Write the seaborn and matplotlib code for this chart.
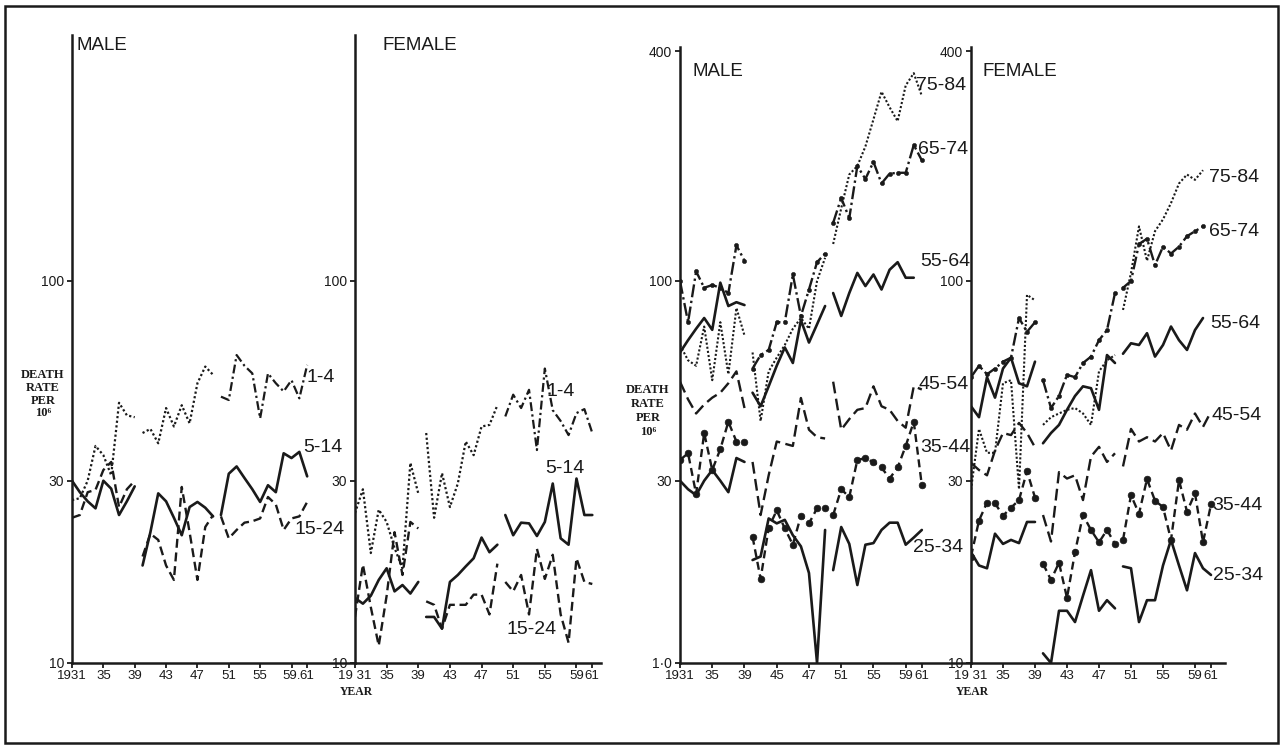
import numpy as np
import pandas as pd
import matplotlib
matplotlib.use("Agg")
import matplotlib.pyplot as plt
from matplotlib.patches import Rectangle
from matplotlib.ticker import NullLocator
import seaborn as sns

sns.set_theme(style="white")
plt.rcParams["font.family"] = ["Liberation Sans", "DejaVu Sans"]

nan = np.nan
years = list(range(1931, 1962))
# classification periods (lines are broken between them)
period = [1] * 9 + [2] * 10 + [3] * 12

# ---------------- left pair: ages 1-24 ----------------
lm_1_4 = [26.7, 27.0, 30.0, 37.0, 35.0, 31.0, 48.0, 44.5, 44.0,
          40.0, 41.0, 37.6, 46.5, 41.6, 47.3, 42.4, 54.0, 59.7, 56.8,
          49.8, 48.8, 64.0, 60.0, 57.3, 43.7, 57.3, 54.0, 51.4, 55.0, 49.3, 60.3]
lm_5_14 = [30.0, 28.0, 26.5, 25.4, 30.0, 28.6, 24.4, 26.5, 29.0,
           18.0, 22.0, 27.8, 26.5, 24.0, 21.6, 25.6, 26.4, 25.5, 24.2,
           24.4, 31.3, 32.7, 30.5, 28.5, 26.4, 29.2, 28.0, 35.4, 34.4, 35.7, 30.8]
lm_15_24 = [24.0, 24.4, 28.0, 28.4, 32.0, 33.6, 25.6, 28.5, 30.0,
            19.0, 21.8, 21.0, 18.0, 16.5, 28.9, 22.0, 16.5, 22.7, 24.4,
            24.2, 21.2, 22.3, 23.3, 23.5, 23.9, 27.2, 26.0, 22.3, 23.9, 24.2, 26.4]

lf_1_4 = [24.7, 28.5, 19.4, 25.2, 23.4, 20.0, 17.7, 33.4, 27.8,
          40.0, 24.0, 31.4, 25.6, 29.5, 38.0, 35.0, 41.6, 42.0, 47.3,
          44.2, 50.4, 46.5, 51.9, 36.1, 59.0, 45.9, 43.0, 39.5, 45.1, 46.2, 40.0]
lf_5_14 = [14.8, 14.3, 15.0, 16.5, 17.7, 15.4, 16.0, 15.2, 16.3,
           13.2, 13.2, 12.3, 16.3, 17.0, 17.9, 18.8, 21.3, 19.5, 20.4,
           24.4, 21.6, 23.3, 23.2, 21.5, 23.4, 29.5, 21.2, 20.4, 30.4, 24.4, 24.4]
lf_15_24 = [13.2, 18.1, 14.0, 11.1, 15.0, 22.0, 17.0, 23.4, 22.5,
            14.5, 14.2, 12.3, 14.2, 14.2, 14.2, 15.1, 15.1, 13.4, 18.2,
            16.3, 15.4, 17.0, 13.4, 19.9, 16.6, 19.2, 13.4, 11.3, 18.8, 16.3, 16.1]

# ---------------- right pair: ages 25-84 ----------------
rm_25_34 = [30.0, 28.5, 27.5, 30.0, 32.0, 30.0, 28.0, 34.4, 33.6,
            18.6, 19.0, 23.9, 23.2, 23.7, 21.6, 20.2, 17.2, 10.0, 22.3,
            17.5, 22.7, 20.5, 16.0, 20.4, 20.6, 22.3, 23.3, 23.3, 20.4, 21.3, 22.3]
rm_35_44 = [34.0, 35.4, 27.7, 40.0, 32.0, 36.3, 42.8, 38.0, 38.0,
            21.4, 16.6, 22.6, 25.1, 22.5, 20.4, 24.3, 23.2, 25.4, 25.5,
            24.4, 28.5, 27.2, 34.0, 34.4, 33.5, 32.5, 30.4, 32.5, 37.0, 42.8, 29.2]
rm_45_54 = [54.5, 49.0, 45.0, 47.5, 49.5, 51.0, 54.0, 58.0, 46.5,
            33.6, 24.4, 31.0, 38.0, 37.5, 37.0, 49.4, 40.8, 39.0, 38.7,
            54.5, 40.8, 43.5, 46.0, 46.5, 53.0, 47.0, 46.0, 43.0, 41.3, 53.0, 52.0]
rm_55_64 = [65.0, 70.0, 75.0, 80.0, 74.5, 99.0, 86.0, 88.0, 86.5,
            51.0, 47.0, 53.0, 60.0, 67.0, 61.0, 79.0, 69.0, 77.0, 86.0,
            93.0, 81.0, 93.0, 105.0, 97.0, 104.0, 95.0, 107.0, 112.0, 102.0, 102.0, nan]
rm_65_74 = [100.0, 78.0, 106.0, 96.0, 97.6, 96.0, 93.0, 124.0, 113.0,
            59.0, 64.0, 66.0, 78.0, 78.0, 104.0, 81.0, 95.0, 112.0, 118.0,
            142.0, 165.0, 146.0, 200.0, 185.0, 205.0, 180.0, 191.0, 192.0, 192.0, 227.0, 207.0]
rm_75_84 = [68.0, 62.0, 60.0, 76.0, 55.0, 78.0, 57.0, 85.0, 72.0,
            65.0, 43.0, 58.0, 63.0, 68.0, 75.0, 80.0, 75.0, 100.0, 115.0,
            125.0, 155.0, 190.0, 200.0, 225.0, 265.0, 313.0, 285.0, 262.0, 325.0, 350.0, 305.0]

rf_25_34 = [19.5, 18.0, 17.7, 21.8, 20.5, 21.0, 20.6, 23.4, 23.4,
            10.6, 10.0, 13.7, 13.7, 12.8, 15.0, 17.5, 13.7, 14.6, 13.9,
            17.9, 17.7, 12.8, 14.6, 14.6, 18.0, 21.0, 18.0, 15.5, 19.4, 17.7, 17.0]
rf_35_44 = [19.0, 23.6, 26.3, 26.2, 24.3, 25.5, 26.7, 31.8, 27.1,
            18.2, 16.5, 18.3, 14.8, 19.5, 24.4, 22.3, 20.7, 22.3, 20.5,
            21.0, 27.5, 24.6, 30.3, 26.6, 25.6, 21.0, 30.1, 24.9, 27.8, 20.7, 26.0]
rf_45_54 = [33.4, 32.0, 31.0, 36.0, 40.0, 39.5, 42.5, 40.0, 36.7,
            24.4, 20.8, 31.6, 30.4, 31.0, 26.7, 34.7, 36.8, 33.6, 35.4,
            32.7, 41.0, 38.0, 39.0, 38.0, 40.0, 36.0, 42.0, 40.8, 45.0, 41.5, 45.5]
rf_55_64 = [47.0, 44.0, 56.0, 49.5, 59.0, 63.0, 54.0, 53.0, 61.5,
            37.6, 40.0, 42.0, 46.0, 50.0, 53.0, 52.4, 46.0, 64.0, 61.0,
            64.5, 68.7, 68.0, 73.0, 63.4, 68.0, 76.0, 70.0, 66.0, 74.4, 80.0, nan]
rf_65_74 = [56.0, 60.0, 57.0, 59.0, 61.5, 63.0, 80.0, 73.6, 78.0,
            55.0, 46.5, 50.0, 56.8, 56.0, 61.0, 63.4, 70.0, 74.4, 93.0,
            96.0, 100.0, 125.0, 129.0, 110.0, 123.0, 118.0, 123.0, 131.0, 135.0, 139.0, nan]
rf_75_84 = [28.4, 41.0, 35.5, 35.5, 54.0, 55.0, 28.5, 92.0, 89.0,
            42.0, 44.0, 45.0, 46.0, 46.5, 45.0, 42.0, 58.0, 62.0, 64.0,
            84.0, 105.0, 139.0, 113.0, 135.0, 145.0, 160.0, 180.0, 190.0, 184.0, 195.0, nan]

panels = {
    "LM": {"1-4": lm_1_4, "5-14": lm_5_14, "15-24": lm_15_24},
    "LF": {"1-4": lf_1_4, "5-14": lf_5_14, "15-24": lf_15_24},
    "RM": {"75-84": rm_75_84, "65-74": rm_65_74, "55-64": rm_55_64,
           "45-54": rm_45_54, "35-44": rm_35_44, "25-34": rm_25_34},
    "RF": {"75-84": rf_75_84, "65-74": rf_65_74, "55-64": rf_55_64,
           "45-54": rf_45_54, "35-44": rf_35_44, "25-34": rf_25_34},
}

rows = []
for pan, d in panels.items():
    for age, vals in d.items():
        for yr, pr, v in zip(years, period, vals):
            rows.append((pan, age, yr, pr, v))
df = pd.DataFrame(rows, columns=["panel", "age", "year", "period", "rate"]).dropna()

x_ticks = [1931, 1935, 1939, 1943, 1947, 1951, 1955, 1959, 1961]
x_labels = {
    "LM": ["1931", "35", "39", "43", "47", "51", "55", "59.", "61"],
    "LF": ["19 31", "35", "39", "43", "47", "51", "55", "59", "61"],
    "RM": ["1931", "35", "39", "45", "47", "51", "55", "59", "61"],
    "RF": ["19 31", "35", "39", "43", "47", "51", "55", "59", "61"],
}
y_ticks = {"LM": [10, 30, 100], "LF": [10, 30, 100],
           "RM": [10, 30, 100, 400], "RF": [10, 30, 100, 400]}
y_labels = {"LM": ["10", "30", "100"], "LF": ["10", "30", "100"],
            "RM": ["1·0", "30", "100", "400"], "RF": ["10", "30", "100", "400"]}

W, H = 1286, 749
fig = plt.figure(figsize=(W / 100, H / 100), dpi=100)
fig.patch.set_facecolor("white")


def fx(x):
    return x / W


def fy(y):
    return 1 - y / H


BOTTOM = 663
DEC = 382.0
layout = {  # left px, right px, top px, year at right edge
    "LM": (72, 355, 35, 1967.1),
    "LF": (355, 601, 35, 1962.1),
    "RM": (680, 971, 47, 1967.1),
    "RF": (971, 1225, 47, 1962.75),
}


def style(age, p):
    if age in ("5-14", "25-34", "55-64"):
        return dict(linestyle="-", linewidth=1.9)
    if age == "1-4":
        if p == 3:
            return dict(linestyle=(0, (4, 1.5, 1, 1.5)), linewidth=1.6)
        return dict(linestyle=(0, (1, 1.1)), linewidth=1.6)
    if age == "15-24":
        return dict(linestyle=(0, (3.8, 2.0)), linewidth=1.7)
    if age == "35-44":
        return dict(linestyle=(0, (3.4, 2.0)), linewidth=1.7, marker="o",
                    markersize=4.8, markerfacecolor="k", markeredgecolor="k",
                    markeredgewidth=0.5)
    if age == "45-54":
        return dict(linestyle=(0, (5, 2.3)), linewidth=1.7)
    if age == "65-74":
        return dict(linestyle=(0, (5.5, 1.5, 1, 1.5)), linewidth=1.7, marker="o",
                    markersize=3.0, markerfacecolor="k", markeredgecolor="k",
                    markeredgewidth=0.4)
    return dict(linestyle=(0, (1, 1.0)), linewidth=1.5)  # 75-84


axes = {}
for pan, (l, r, t, xmax) in layout.items():
    ax = fig.add_axes([fx(l), fy(BOTTOM), fx(r) - fx(l), fy(t) - fy(BOTTOM)])
    ax.set_facecolor("none")
    ax.set_yscale("log")
    top_val = 10 ** (1 + (BOTTOM - t) / DEC)
    sub = df[df.panel == pan]
    for age in panels[pan]:
        for p in (1, 2, 3):
            s = sub[(sub.age == age) & (sub.period == p)]
            if s.empty:
                continue
            sns.lineplot(data=s, x="year", y="rate", ax=ax, estimator=None,
                         errorbar=None, legend=False, color="k", **style(age, p))
    ax.set_ylim(10, top_val)
    ax.set_xlim(1931, xmax)
    ax.set_xlabel("")
    ax.set_ylabel("")
    ax.grid(False)
    for sp in ("top", "right"):
        ax.spines[sp].set_visible(False)
    for sp in ("left", "bottom"):
        ax.spines[sp].set_linewidth(1.8)
        ax.spines[sp].set_color("k")
    ax.yaxis.set_minor_locator(NullLocator())
    ax.xaxis.set_minor_locator(NullLocator())
    ax.set_yticks(y_ticks[pan])
    ax.set_yticklabels(y_labels[pan])
    ax.set_xticks(x_ticks)
    ax.set_xticklabels(x_labels[pan])
    ax.tick_params(axis="both", which="major", direction="out", length=3.5,
                   width=1.3, colors="k", left=True, bottom=True, pad=2)
    ax.tick_params(axis="x", labelsize=9.5, pad=1.5)
    ax.tick_params(axis="y", labelsize=10)
    axes[pan] = ax

# panel titles
for s, x, y in [("MALE", 76, 46), ("FEMALE", 383, 46),
                ("MALE", 693, 72), ("FEMALE", 983, 72)]:
    fig.text(fx(x), fy(y), s, ha="left", va="center", fontsize=13.5, color="k")

# age-group labels
age_labels = [
    ("1-4", 307, 377), ("5-14", 303, 448), ("15-24", 295, 530),
    ("1-4", 547, 392), ("5-14", 545, 468), ("15-24", 507, 630),
    ("75-84", 916, 85), ("65-74", 918, 150), ("55-64", 920, 262),
    ("45-54", 918, 385), ("35-44", 920, 448), ("25-34", 913, 548),
    ("75-84", 1209, 178), ("65-74", 1209, 232), ("55-64", 1210, 323),
    ("45-54", 1212, 416), ("35-44", 1212, 505), ("25-34", 1213, 575),
]
for s, x, y in age_labels:
    fig.text(fx(x), fy(y), s, ha="left", va="center", fontsize=14, color="k")

# axis captions
serif = ["Liberation Serif", "DejaVu Serif"]
for cx, ys in [(43, (375, 388, 401, 413)), (648, (390, 404, 418, 432))]:
    for s, y in zip(["DEATH", "RATE", "PER", "10⁶"], ys):
        fig.text(fx(cx), fy(y), s, ha="center", va="center", fontsize=9,
                 fontweight="bold", family=serif, color="k")
for cx in (356, 972):
    fig.text(fx(cx), fy(692), "YEAR", ha="center", va="center", fontsize=8.5,
             fontweight="bold", family=serif, color="k")

# outer frame
fig.add_artist(Rectangle((fx(5), fy(743)), fx(1278) - fx(5), fy(6) - fy(743),
                         transform=fig.transFigure, fill=False, lw=1.8,
                         ec="k"))

fig.savefig("out.png", dpi=100)
